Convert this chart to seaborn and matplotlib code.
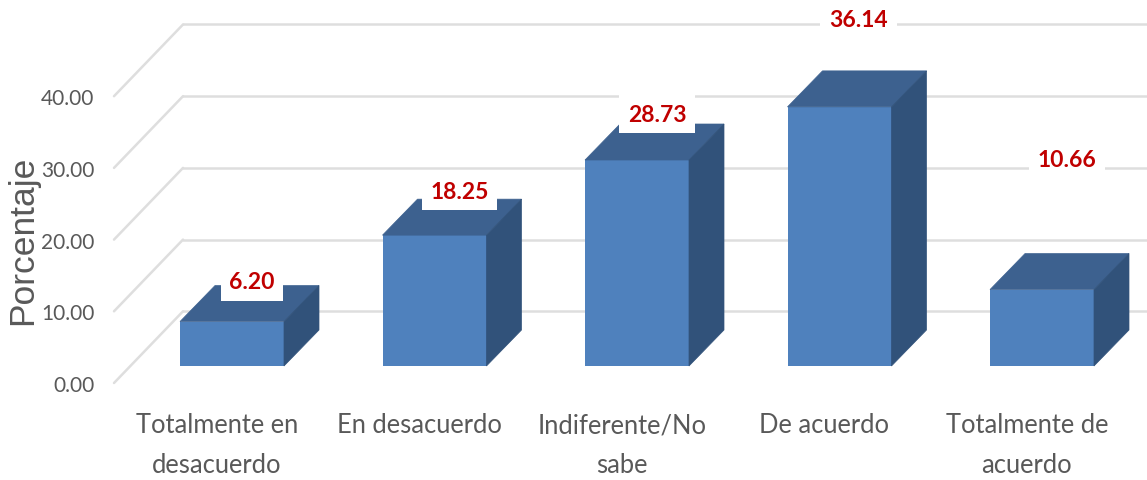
import matplotlib
matplotlib.use("Agg")
import matplotlib.pyplot as plt
import pandas as pd
import seaborn as sns

categories = ["Totalmente en\ndesacuerdo", "En desacuerdo", "Indiferente/No\nsabe", "De acuerdo", "Totalmente de\nacuerdo"]
values = [6.20, 18.25, 28.73, 36.14, 10.66]
y_ticks = [0, 10, 20, 30, 40]
y_label = "Porcentaje"

# layout (pixels of the 1147x481 canvas)
W, H = 1147, 481
PX_UNIT = 7.17
PX_CAT = 202.5
FLOOR = -(384 - 367) / PX_UNIT      # value-axis zero on the front edge
WALL_SHIFT = 10.0                   # the back wall sits one tick higher
WALL_X = (183 - 232) / PX_CAT
DX, DY = 35 / PX_CAT, 36 / PX_UNIT  # bar depth
LABEL_OFFSETS = [(20, 40), (25, 44), (20, 46), (19, 87), (25, 130)]  # px from front-top centre

FRONT, TOP, SIDE = "#4F81BD", "#3D618F", "#31527A"
GRID, TXT, RED = "#DEDEDE", "#595959", "#C00000"

sns.set_theme(style="white")
fig = plt.figure(figsize=(W / 100, H / 100), dpi=100, facecolor="white")
ax = fig.add_axes([114 / W, 1 - 384 / H, (W - 114) / W, (384 - 26) / H])

df = pd.DataFrame({"cat": categories, "val": values})
sns.barplot(data=df, x="cat", y="val", color=FRONT, saturation=1, width=104 / PX_CAT,
            ax=ax, zorder=3, linewidth=0)

xlim = ((114 - 232) / PX_CAT, (W - 232) / PX_CAT)
ax.set_xlim(*xlim)
ax.set_ylim(FLOOR, (367 - 26) / PX_UNIT)

# back wall gridlines and side-wall diagonals
for t in y_ticks:
    yf = FLOOR + t
    yb = yf + WALL_SHIFT
    ax.plot([WALL_X, xlim[1]], [yb, yb], color=GRID, lw=1.8, zorder=1, clip_on=False)
    ax.plot([xlim[0], WALL_X], [yf, yb], color=GRID, lw=1.8, zorder=1, clip_on=False)

# extruded top and side faces
for patch in ax.patches[:len(values)]:
    x0, w, h = patch.get_x(), patch.get_width(), patch.get_height()
    x1 = x0 + w
    ax.fill([x0, x1, x1 + DX, x0 + DX], [h, h, h + DY, h + DY], color=TOP, lw=0.5, zorder=4)
    ax.fill([x1, x1 + DX, x1 + DX, x1], [0, DY, h + DY, h], color=SIDE, lw=0.5, zorder=4)

# data labels
for i, (v, (ox, oy)) in enumerate(zip(values, LABEL_OFFSETS)):
    ax.annotate(f"{v:.2f}", xy=(i, v), xytext=(ox * 0.72, oy * 0.72), textcoords="offset points",
                ha="center", va="center", color=RED, fontsize=16.5, fontweight="bold",
                family="Lato", zorder=5, annotation_clip=False,
                bbox=dict(boxstyle="square,pad=0.38", fc="white", ec="none"))

# axes text
ax.set_yticks([FLOOR + t for t in y_ticks])
ax.set_yticklabels([f"{t:.2f}" for t in y_ticks], family="Lato", fontsize=15, color=TXT)
ax.tick_params(axis="y", length=0, pad=14)
ax.set_xticks([i - 0.075 for i in range(len(categories))])
ax.set_xticklabels(categories, family="Lato", fontsize=18.4, color=TXT, linespacing=1.75)
ax.tick_params(axis="x", length=0, pad=21)
ax.set_xlabel("")
ax.set_ylabel("")
fig.text(23 / W, 1 - 240 / H, y_label, rotation=90, ha="center", va="center",
         family="Liberation Sans", fontsize=25.5, color=TXT)
sns.despine(ax=ax, left=True, bottom=True, top=True, right=True)
ax.patch.set_alpha(0)

fig.savefig("out.png", dpi=100, facecolor="white")
